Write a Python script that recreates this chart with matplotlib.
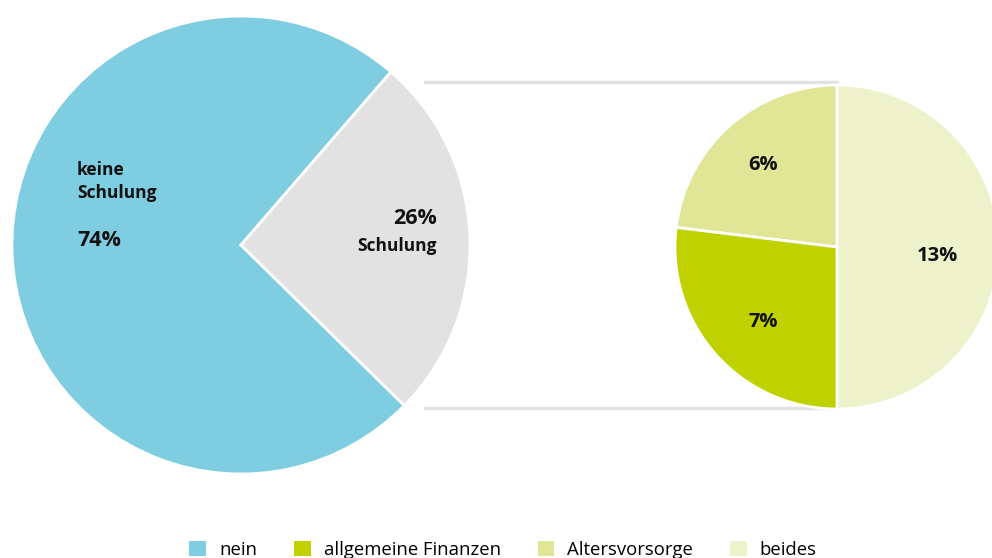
import matplotlib
matplotlib.use('Agg')
import matplotlib.pyplot as plt
from matplotlib.patches import Patch

plt.rcParams['font.family'] = ['Open Sans', 'DejaVu Sans']

# main pie
main_labels = ['keine Schulung', 'Schulung']
main_values = [74, 26]
main_colors = ['#7ecde0', '#e1e2e1']

# breakdown of "Schulung"
sub_labels = ['beides', 'Altersvorsorge', 'allgemeine Finanzen']
sub_values = [13, 6, 7]
sub_colors = ['#eef2cb', '#e1e697', '#bfd200']

legend_labels = ['nein', 'allgemeine Finanzen', 'Altersvorsorge', 'beides']
legend_colors = ['#7ecde0', '#bfd200', '#e1e697', '#eef2cb']

W, H = 992, 558
fig = plt.figure(figsize=(W / 100, H / 100), dpi=100)
ax = fig.add_axes([0, 0, 1, 1])
ax.set_aspect('equal')
ax.axis('off')

c1 = (241, H - 245)
r1 = 229
ax.pie(main_values, colors=main_colors, center=c1, radius=r1,
       startangle=49.1, counterclock=True,
       wedgeprops=dict(edgecolor='white', linewidth=2))

c2 = (837, H - 247)
r2 = 162
ax.pie(sub_values, colors=sub_colors, center=c2, radius=r2,
       startangle=-90, counterclock=True,
       wedgeprops=dict(edgecolor='white', linewidth=2))

# connector lines
ax.plot([425, c2[0]], [H - 82, H - 82], color='#e1e2e1', lw=2.5, zorder=0)
ax.plot([425, c2[0]], [H - 408, H - 408], color='#e1e2e1', lw=2.5, zorder=0)

ax.set_xlim(0, W)
ax.set_ylim(0, H)

bold = dict(fontweight='bold', color='#111111')
ax.text(77, H - 170, 'keine', fontsize=12.5, ha='left', va='center', **bold)
ax.text(77, H - 193, 'Schulung', fontsize=12.5, ha='left', va='center', **bold)
ax.text(77, H - 240, f'{main_values[0]}%', fontsize=15.5, ha='left', va='center', **bold)
ax.text(437, H - 218, f'{main_values[1]}%', fontsize=15.5, ha='right', va='center', **bold)
ax.text(437, H - 246, 'Schulung', fontsize=12.5, ha='right', va='center', **bold)

ax.text(763, H - 165, f'{sub_values[1]}%', fontsize=14.5, ha='center', va='center', **bold)
ax.text(763, H - 322, f'{sub_values[2]}%', fontsize=14.5, ha='center', va='center', **bold)
ax.text(937, H - 256, f'{sub_values[0]}%', fontsize=14.5, ha='center', va='center', **bold)

handles = [Patch(facecolor=c, edgecolor='none') for c in legend_colors]
ax.legend(handles, legend_labels, loc='center', bbox_to_anchor=(503 / W, 8 / H),
          ncol=4, frameon=False, fontsize=13.3, handlelength=0.9, handleheight=0.9,
          handletextpad=0.7, columnspacing=2.0)

fig.savefig('out.png', dpi=100)
